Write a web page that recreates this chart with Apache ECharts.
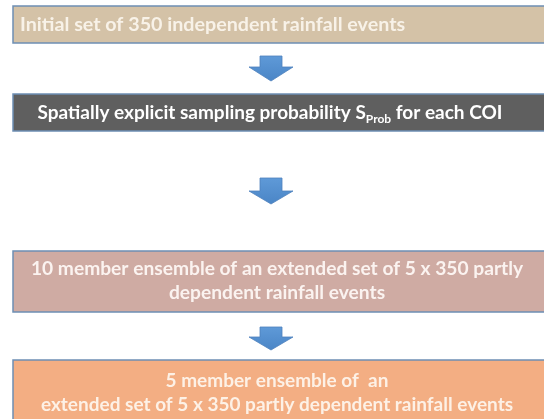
<!DOCTYPE html>
<html>
<head>
<meta charset="utf-8">
<script src="https://cdn.jsdelivr.net/npm/echarts@6/dist/echarts.min.js"></script>
<style>
  html, body { margin: 0; padding: 0; background: #fff; }
  #chart { width: 544px; height: 419px; }
</style>
</head>
<body>
<div id="chart"></div>
<script>
// steps of the flow, top to bottom
const stepLines = [
  ['Initial set of 350 independent rainfall events'],
  ['{t|Spatially explicit sampling probability S}{s|Prob}{t| for each COI}'],
  ['10 member ensemble of an extended set of 5 x 350 partly', 'dependent rainfall events'],
  ['5 member ensemble of  an', 'extended set of 5 x 350 partly dependent rainfall events']
];
const stepFill = ['#d4c2a7', '#5f5f5f', '#cfaba3', '#f3ae83'];
const stepText = ['#f8f2e8', '#ffffff', '#fbf3f0', '#fdf1e6'];

// layout (pixels)
const boxes = [
  { y: 6, h: 37, align: 'left', tx: 20, ty: 24.5, fs: 19.7 },
  { y: 94, h: 37, align: 'center', tx: 270, ty: 113, fs: 19 },
  { y: 251, h: 61, align: 'center', tx: 277, ty: 281, fs: 19.2 },
  { y: 360, h: 70, align: 'center', tx: 277, ty: 393, fs: 19 }
];
const arrows = [
  { top: 56, head: 67, tip: 81 },
  { top: 178, head: 191, tip: 204 },
  { top: 327, head: 337, tip: 350 }
];
const cx = 271;
const fontFam = 'Lato, "Open Sans", sans-serif';

const chart = echarts.init(document.getElementById('chart'));
const elements = [];

boxes.forEach(function (b, i) {
  elements.push({
    type: 'rect',
    shape: { x: 13, y: b.y, width: 560, height: b.h },
    style: { fill: stepFill[i], stroke: '#6e8fb4', lineWidth: 1.5 }
  });
  elements.push({
    type: 'text',
    x: b.tx,
    y: b.ty,
    style: {
      text: stepLines[i].join('\n'),
      fill: stepText[i],
      font: 'bold ' + b.fs + 'px ' + fontFam,
      textAlign: b.align,
      textVerticalAlign: 'middle',
      lineHeight: 24,
      rich: {
        t: { fontSize: b.fs, fontWeight: 'bold', fontFamily: fontFam, lineHeight: 24, fill: stepText[i] },
        s: { fontSize: 12, fontWeight: 'bold', fontFamily: fontFam, lineHeight: 12, verticalAlign: 'bottom', fill: stepText[i] }
      }
    }
  });
});

arrows.forEach(function (a) {
  elements.push({
    type: 'polygon',
    shape: {
      points: [
        [cx - 11, a.top], [cx + 11, a.top], [cx + 11, a.head], [cx + 22, a.head],
        [cx, a.tip], [cx - 22, a.head], [cx - 11, a.head]
      ]
    },
    style: {
      fill: new echarts.graphic.LinearGradient(0, 0, 0, 1, [
        { offset: 0, color: '#5f9ad8' },
        { offset: 1, color: '#4a85c6' }
      ]),
      stroke: '#4f81bd',
      lineWidth: 0.8
    }
  });
});

chart.setOption({
  backgroundColor: '#ffffff',
  graphic: { elements: elements }
});
</script>
</body>
</html>
